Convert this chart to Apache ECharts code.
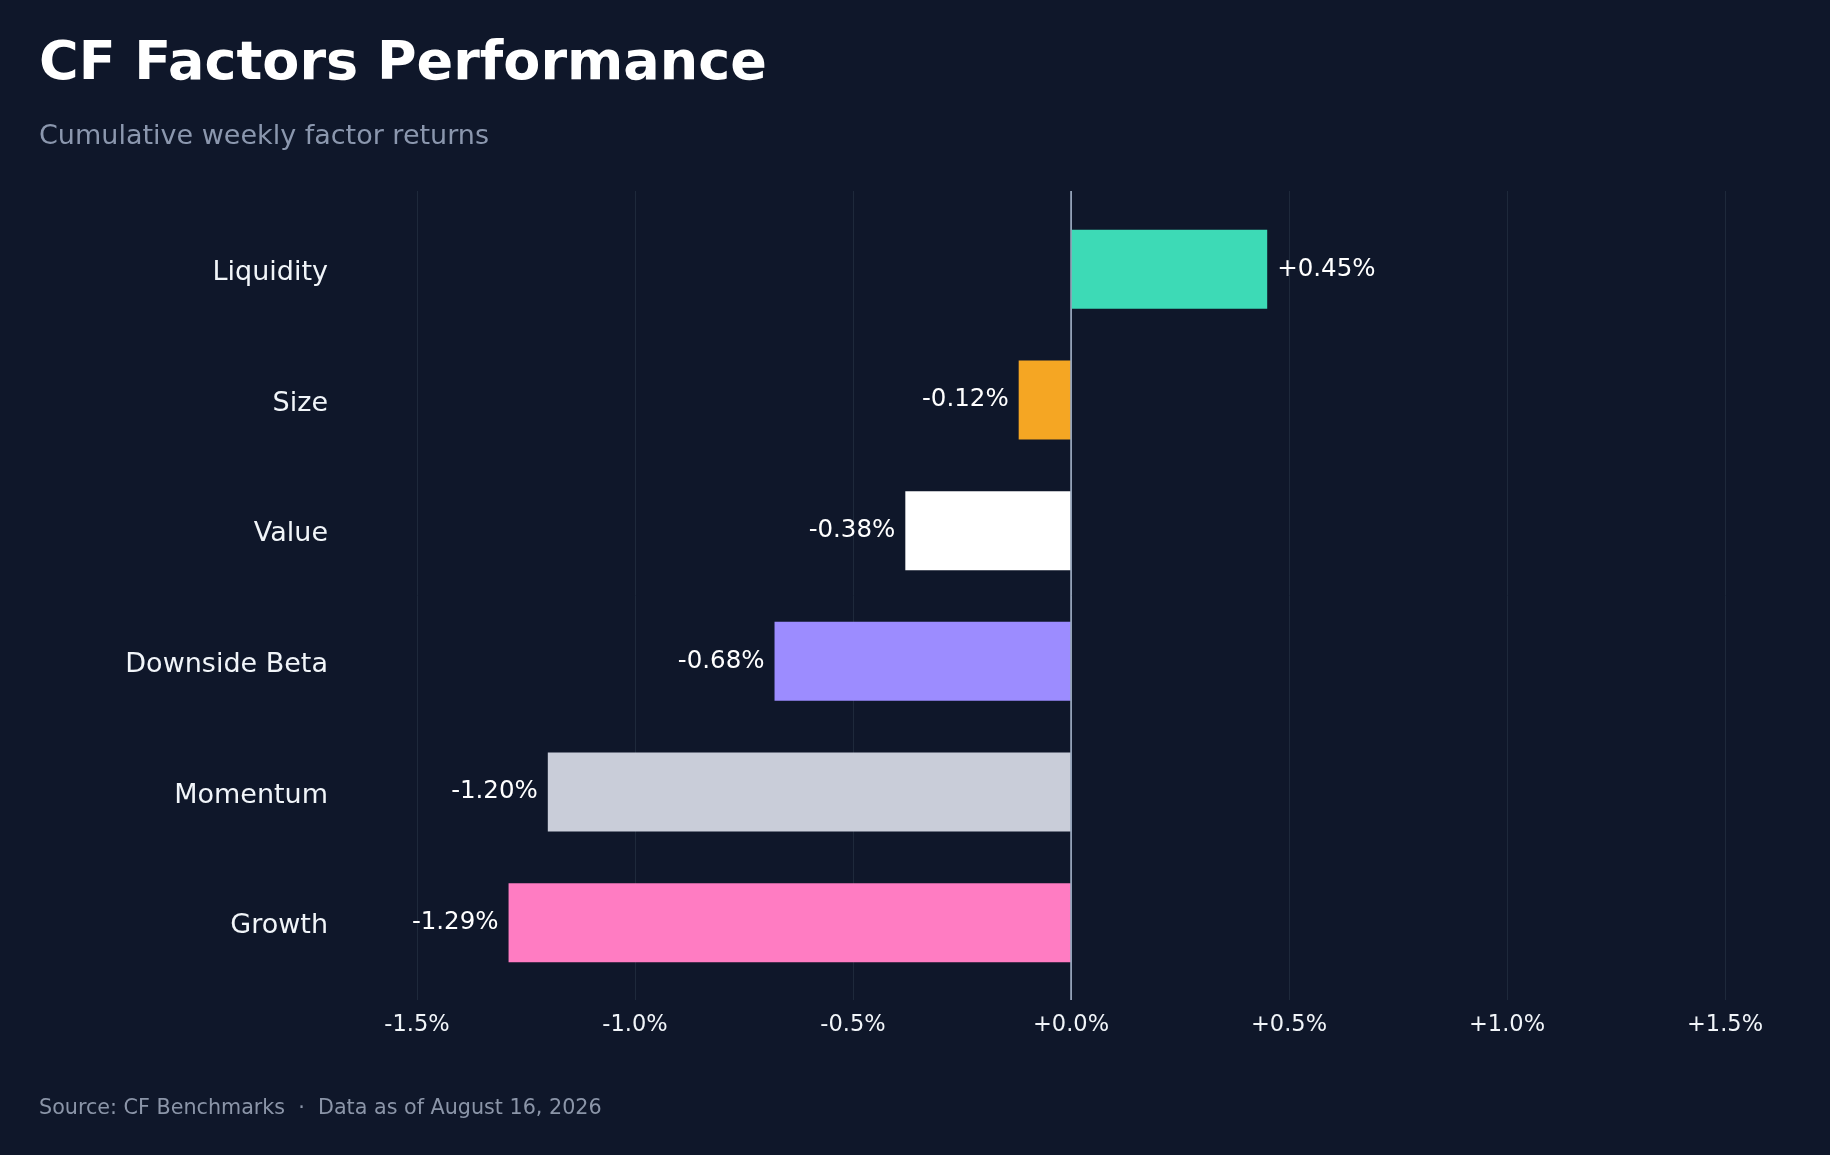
<!DOCTYPE html>
<html>
<head>
<meta charset="utf-8">
<script src="https://cdn.jsdelivr.net/npm/echarts@6/dist/echarts.min.js"></script>
<style>
html,body{margin:0;padding:0;background:#0f172a;}
#chart{width:1830px;height:1155px;}
</style>
</head>
<body>
<div id="chart"></div>
<script>
const categories = ['Liquidity', 'Size', 'Value', 'Downside Beta', 'Momentum', 'Growth'];
const values = [0.45, -0.12, -0.38, -0.68, -1.20, -1.29];
const barColors = ['#3ddab6', '#f5a623', '#ffffff', '#9c8cff', '#c9cdd9', '#ff7cc2'];
const tickValues = [-1.5, -1.0, -0.5, 0.0, 0.5, 1.0, 1.5];

function fmt(v, d) { return (v >= 0 ? '+' : '') + v.toFixed(d) + '%'; }

const FONT = 'DejaVu Sans';
const chart = echarts.init(document.getElementById('chart'), null, { renderer: 'canvas' });

const gridColors = tickValues.map(v => v === 0 ? '#94a3b8' : '#1e293b');

chart.setOption({
  backgroundColor: '#0f172a',
  animation: false,
  textStyle: { fontFamily: FONT },
  title: [
    { text: 'CF Factors Performance', left: 34, top: 33,
      textStyle: { color: '#ffffff', fontSize: 54, fontWeight: 'bold', fontFamily: FONT } },
    { text: 'Cumulative weekly factor returns', left: 34, top: 118,
      textStyle: { color: '#8b97ae', fontSize: 27, fontWeight: 'normal', fontFamily: FONT } },
    { text: 'Source: CF Benchmarks  \u00b7  Data as of August 16, 2026', left: 34, top: 1093,
      textStyle: { color: '#8b95a8', fontSize: 20.7, fontWeight: 'normal', fontFamily: FONT } }
  ],
  grid: [
    { left: 417, right: 105, top: 204, bottom: 167, containLabel: false },
    { left: 417, right: 105, top: 191, bottom: 155, containLabel: false }
  ],
  xAxis: [
    { gridIndex: 0, type: 'value', min: -1.5, max: 1.5, interval: 0.5,
      axisLine: { show: false }, axisTick: { show: false }, axisLabel: { show: false },
      splitLine: { show: false } },
    { gridIndex: 1, type: 'value', min: -1.5, max: 1.5, interval: 0.5,
      axisLine: { show: false }, axisTick: { show: false },
      axisLabel: { show: true, margin: 14, color: '#f1f5f9', fontSize: 22.5, fontFamily: FONT,
        formatter: v => fmt(v, 1) },
      splitLine: { show: true, showMinLine: true, showMaxLine: true,
        lineStyle: { color: gridColors, width: 1 } } }
  ],
  yAxis: [
    { gridIndex: 0, type: 'category', data: categories, inverse: true,
      axisLine: { show: false }, axisTick: { show: false }, splitLine: { show: false },
      axisLabel: { margin: 89, formatter: v => '{c|' + v + '}',
        rich: { c: { color: '#f1f5f9', fontSize: 27, fontFamily: FONT, padding: [7, 0, 0, 0] } } } },
    { gridIndex: 1, type: 'value', min: 0, max: 1, show: false }
  ],
  series: [
    {
      type: 'bar', xAxisIndex: 0, yAxisIndex: 0,
      barWidth: 79,
      data: values.map((v, i) => ({
        value: v,
        itemStyle: { color: barColors[i] },
        label: {
          show: true,
          position: v >= 0 ? 'right' : 'left',
          distance: 10,
          color: '#ffffff',
          fontSize: 24.5,
          fontFamily: FONT,
          formatter: () => fmt(v, 2)
        }
      })),
      z: 3
    },
    {
      type: 'line', xAxisIndex: 1, yAxisIndex: 1, data: [], silent: true,
      markLine: {
        silent: true, symbol: 'none', label: { show: false },
        lineStyle: { color: '#94a3b8', width: 1.6, type: 'solid' },
        data: [{ xAxis: 0 }]
      },
      z: 5
    }
  ]
});
</script>
</body>
</html>
